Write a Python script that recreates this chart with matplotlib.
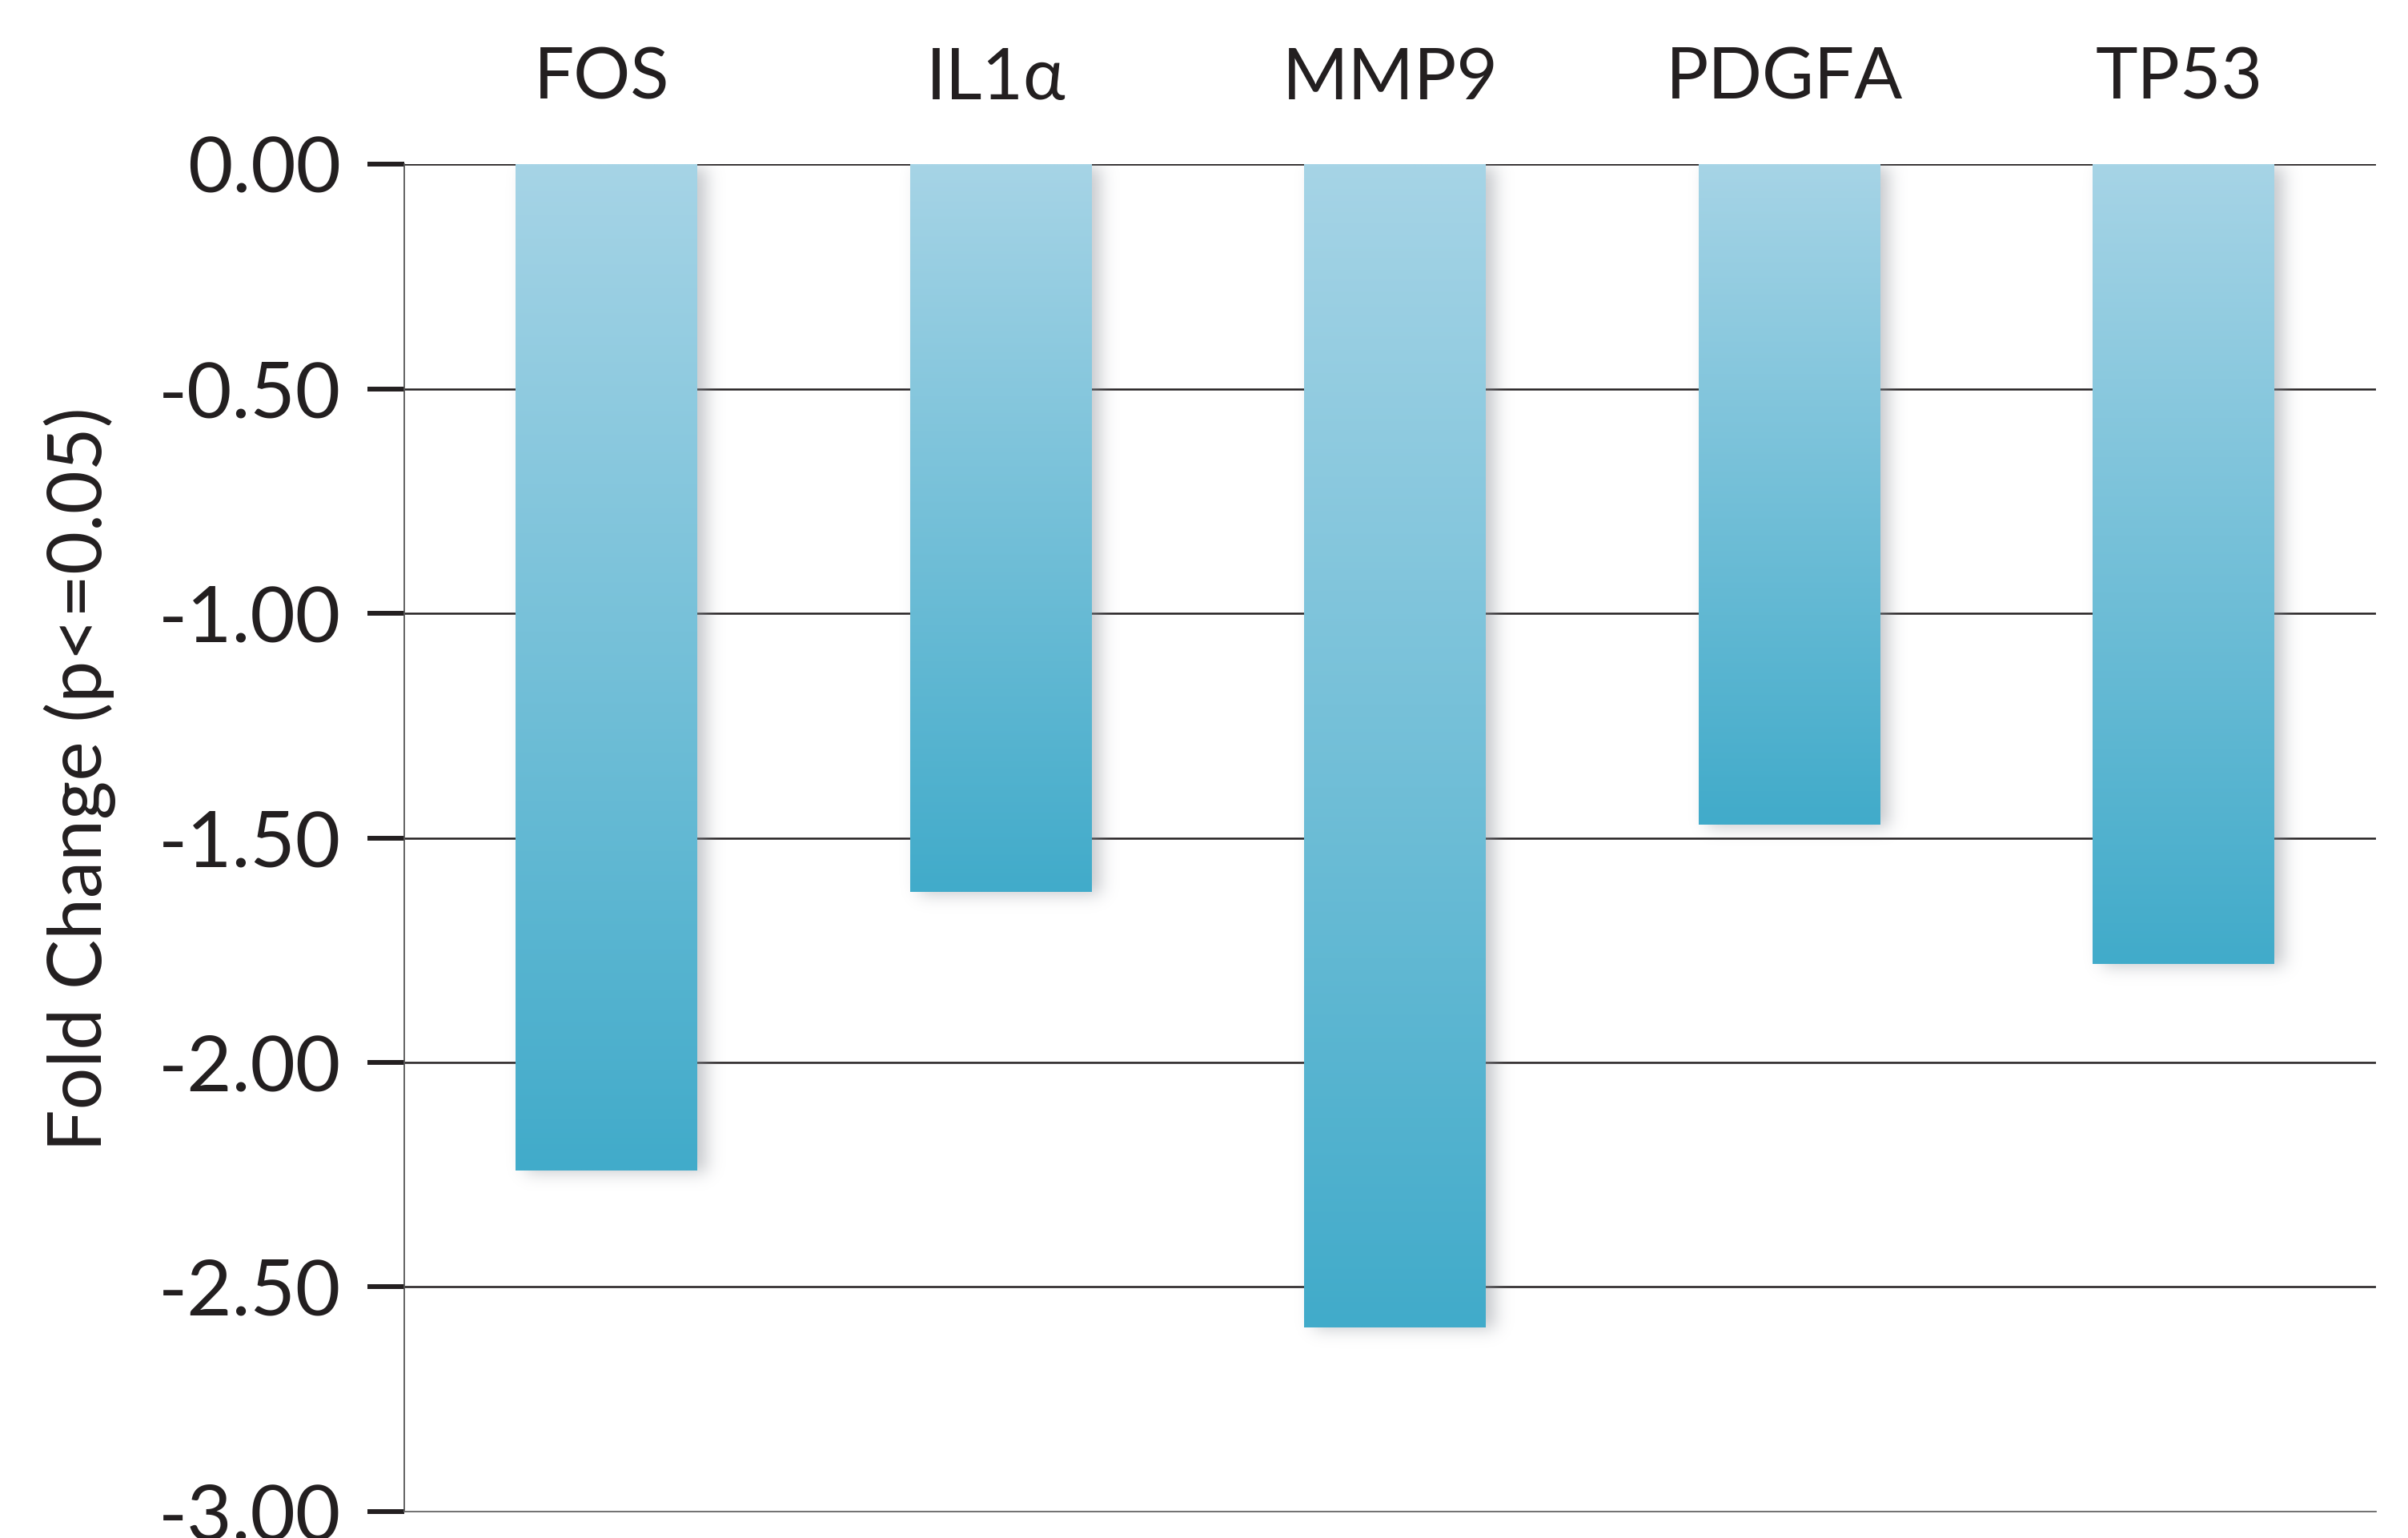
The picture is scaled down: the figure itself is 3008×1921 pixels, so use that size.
import math
import numpy as np
import matplotlib
matplotlib.use("Agg")
import matplotlib.pyplot as plt
from matplotlib import font_manager as fm

# values
genes = ["FOS", "IL1\u03b1", "MMP9", "PDGFA", "TP53"]
fold_change = [-2.24, -1.62, -2.59, -1.47, -1.78]
y_ticks = [0.0, -0.5, -1.0, -1.5, -2.0, -2.5, -3.0]
y_tick_labels = ["0.00", "-0.50", "-1.00", "-1.50", "-2.00", "-2.50", "-3.00"]

ink = "#231f20"
top_col = np.array([0xa6, 0xd4, 0xe6]) / 255.0
bot_col = np.array([0x41, 0xab, 0xca]) / 255.0

fams = {f.name for f in fm.fontManager.ttflist}
main_font = "Lato" if "Lato" in fams else "DejaVu Sans"
plt.rcParams["font.family"] = [main_font, "DejaVu Sans"]

fig = plt.figure(figsize=(30.08, 19.21), dpi=100)
ax = fig.add_axes([0.1679, 0.01718, 0.8188, 0.8761])

n = len(genes)
x = np.arange(n)
width = 0.46
shift = 0.012  # bars sit a touch right of the category centre

# grid lines behind the bars
for t in y_ticks[:-1]:
    ax.axhline(t, color=ink, lw=1.8, zorder=1)

erf = np.vectorize(math.erf)


def soft_box(u, a, b, s):
    return 0.5 * (erf((u - a) / s) - erf((u - b) / s))


bars = ax.bar(x + shift, fold_change, width=width, color="none", zorder=3)

for xi, v in zip(x + shift, fold_change):
    x0, x1 = xi - width / 2, xi + width / 2
    # soft drop shadow, a little to the right and below
    dx, dy = 0.024, -0.008
    sx, sy = 0.03, 0.025
    gx = np.linspace(x0 - 0.1, x1 + 0.15, 200)
    gy = np.linspace(0.06, v - 0.1, 300)
    ax_ = soft_box(gx, x0 + dx, x1 + dx, sx)
    ay_ = soft_box(gy, v + dy, 0.0 + dy + 0.005, sy)
    alpha = np.outer(ay_, ax_) * 0.5
    img = np.zeros((len(gy), len(gx), 4))
    img[..., 0] = 0.55
    img[..., 1] = 0.57
    img[..., 2] = 0.60
    img[..., 3] = alpha
    ax.imshow(img, extent=[gx[0], gx[-1], gy[-1], gy[0]], origin="upper",
              aspect="auto", zorder=2, interpolation="bilinear")

    # vertical gradient fill for the bar
    t = np.linspace(0, 1, 256)[:, None]
    grad = (1 - t) * top_col + t * bot_col
    ax.imshow(grad[:, None, :], extent=[x0, x1, v, 0], origin="upper",
              aspect="auto", zorder=3, interpolation="bilinear")

ax.set_xlim(-0.5, n - 0.5)
ax.set_ylim(-3.0, 0.0)

ax.set_yticks(y_ticks)
ax.set_yticklabels(y_tick_labels)
ax.tick_params(axis="y", direction="out", length=33, width=4.3, color=ink,
               labelsize=70, labelcolor=ink, pad=24)

ax.xaxis.tick_top()
ax.set_xticks(x)
ax.set_xticklabels(genes)
ax.tick_params(axis="x", length=0, labelsize=64, labelcolor=ink, pad=47)

ax.set_ylabel("Fold Change (p<=0.05)", fontsize=67, color=ink)
ax.yaxis.set_label_coords(-0.1644, 0.5437)
ax.yaxis.label.set_va("center")

for side in ["top", "right"]:
    ax.spines[side].set_visible(False)
ax.spines["left"].set_color("#555555")
ax.spines["left"].set_linewidth(1.3)
ax.spines["bottom"].set_color("#666666")
ax.spines["bottom"].set_linewidth(1.3)

fig.savefig("out.png", dpi=100, facecolor="white")
